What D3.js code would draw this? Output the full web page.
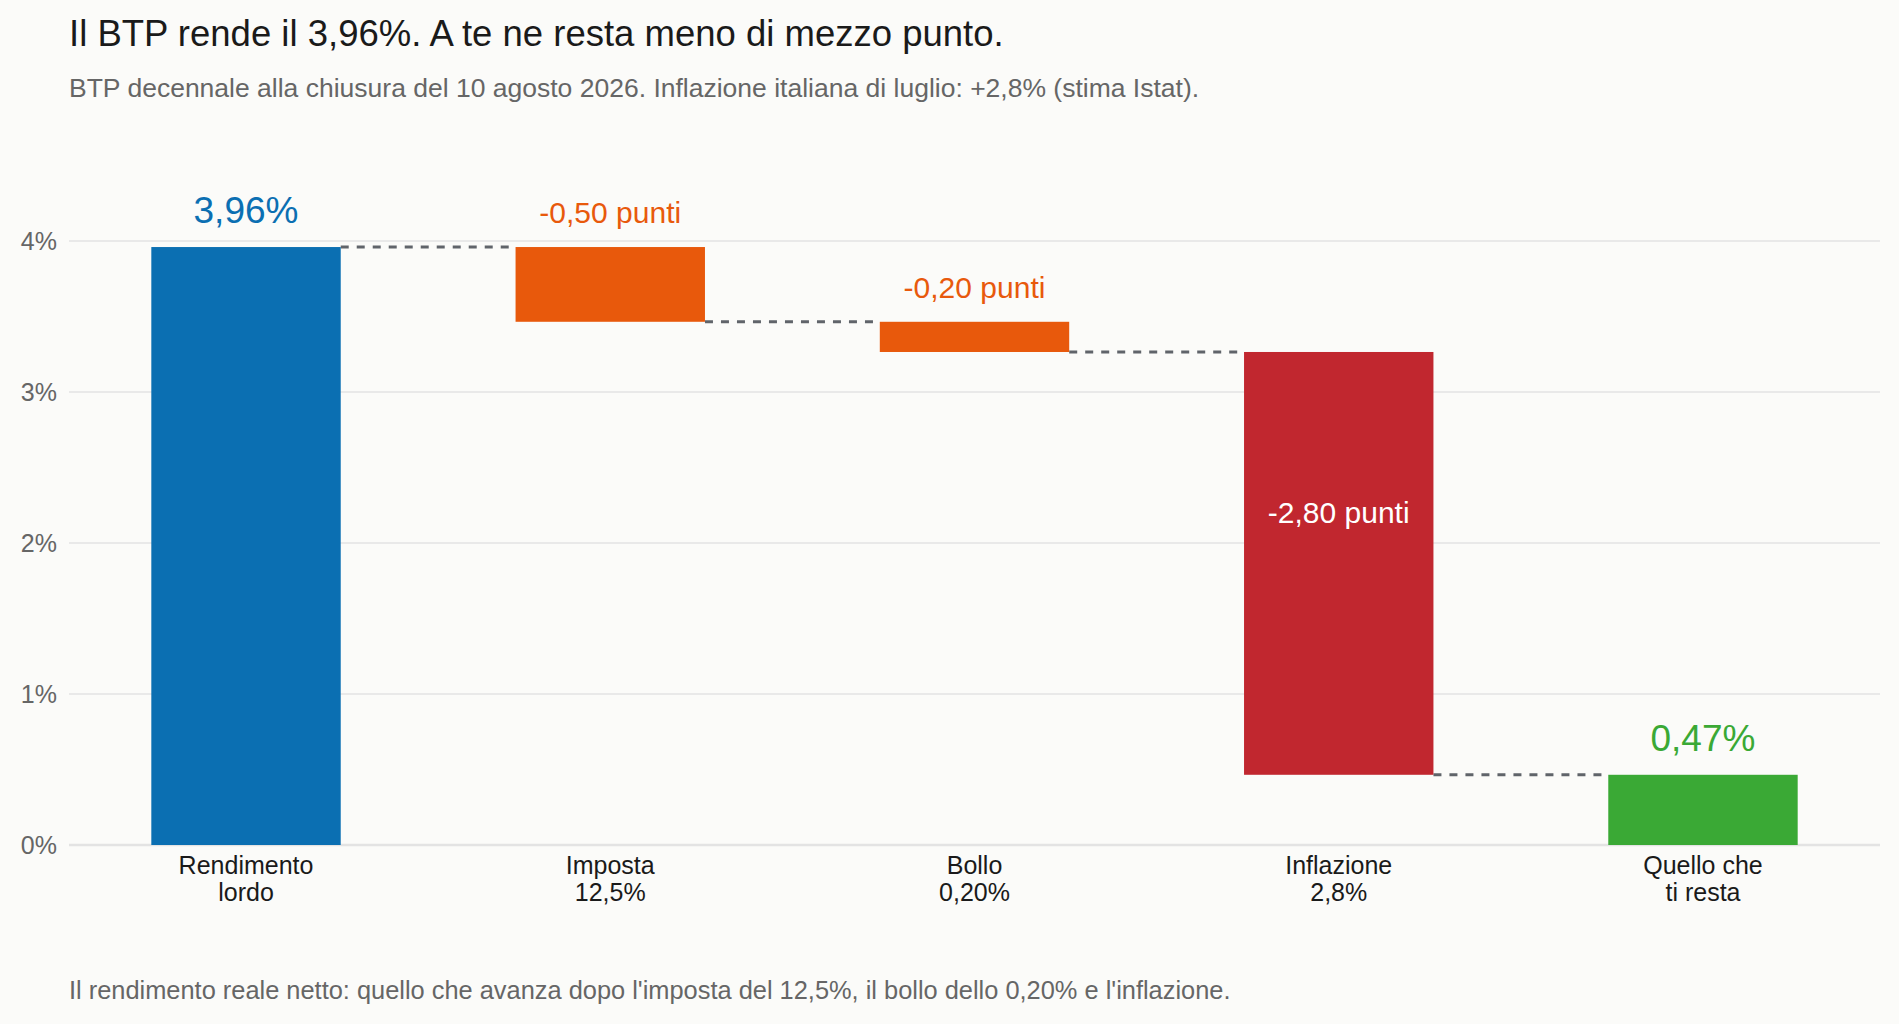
<html>
<head>
<meta charset="utf-8">
<script src="https://d3js.org/d3.v7.min.js"></script>
<style>
  body { margin: 0; background: #fbfbf9; }
  svg { display: block; font-family: "Liberation Sans", Arial, sans-serif; }
</style>
</head>
<body>
<svg width="1899" height="1024"></svg>
<script>
// waterfall steps: gross yield, deductions, net result
const categories = [["Rendimento", "lordo"], ["Imposta", "12,5%"], ["Bollo", "0,20%"], ["Inflazione", "2,8%"], ["Quello che", "ti resta"]];
const deltas = [3.96, -0.495, -0.20, -2.80];
const valueLabels = ["3,96%", "-0,50 punti", "-0,20 punti", "-2,80 punti", "0,47%"];
const yTicks = [0, 1, 2, 3, 4];
const colors = ["#0b6fb2", "#e8590c", "#e8590c", "#c1272f", "#3aa935"];

const svg = d3.select('svg')
const mLeft = 69, mRight = 1880, mTop = 241, mBottom = 845

// running totals -> bar start/end
let run = 0
const steps = deltas.map((d, i) => {
  let s = i == 0 ? 0 : run
  run += d
  return { i, y0: s, y1: run }
})
steps.push({ i: steps.length, y0: 0, y1: run })

let x = d3.scaleBand().domain(d3.range(categories.length)).range([mLeft, mRight])
    .paddingInner(0.48).paddingOuter(0.226)
let y = d3.scaleLinear().domain([0, 4]).range([mBottom, mTop])

// titles
svg.append('text').attr('x', 69).attr('y', 46)
  .text('Il BTP rende il 3,96%. A te ne resta meno di mezzo punto.')
  .style('font-size', '36.5px').style('fill', '#1a1a1a')
svg.append('text').attr('x', 69).attr('y', 97)
  .text('BTP decennale alla chiusura del 10 agosto 2026. Inflazione italiana di luglio: +2,8% (stima Istat).')
  .style('font-size', '26.5px').style('fill', '#666')

// grid + y labels
let g = svg.append('g')
g.selectAll('line').data(yTicks).join('line')
  .attr('x1', mLeft).attr('x2', mRight)
  .attr('y1', d => y(d)).attr('y2', d => y(d))
  .style('stroke', '#e3e3e3').style('stroke-width', d => d == 0 ? 2.5 : 1.5)
g.selectAll('text').data(yTicks).join('text')
  .attr('x', 57).attr('y', d => y(d)).attr('dy', '0.35em')
  .attr('text-anchor', 'end')
  .text(d => d + '%')
  .style('font-size', '25px').style('fill', '#666')

// connectors
svg.append('g').selectAll('line').data(steps.slice(0, -1)).join('line')
  .attr('x1', d => x(d.i) + x.bandwidth())
  .attr('x2', d => x(d.i + 1))
  .attr('y1', d => y(d.y1)).attr('y2', d => y(d.y1))
  .style('stroke', '#60646a').style('stroke-width', 3)
  .style('stroke-dasharray', '8,8')

// bars
svg.append('g').selectAll('rect').data(steps).join('rect')
  .attr('x', d => x(d.i))
  .attr('width', x.bandwidth())
  .attr('y', d => y(Math.max(d.y0, d.y1)))
  .attr('height', d => Math.abs(y(d.y0) - y(d.y1)))
  .style('fill', d => colors[d.i])

// value labels, inflation one goes inside the bar
svg.append('g').selectAll('text').data(steps).join('text')
  .attr('x', d => x(d.i) + x.bandwidth() / 2)
  .attr('y', d => d.i == 3
      ? y(d.y0) + 0.38 * (y(d.y1) - y(d.y0)) + 10
      : y(Math.max(d.y0, d.y1)) - 24)
  .attr('text-anchor', 'middle')
  .text(d => valueLabels[d.i])
  .style('font-size', d => d.i == 0 || d.i == 4 ? '37px' : '30px')
  .style('fill', d => d.i == 3 ? '#fff' : colors[d.i])

// category labels
let cat = svg.append('g').selectAll('text').data(categories).join('text')
  .attr('x', (d, i) => x(i) + x.bandwidth() / 2)
  .attr('y', 874)
  .attr('text-anchor', 'middle')
  .style('font-size', '25px').style('fill', '#1a1a1a')
cat.selectAll('tspan').data(d => d).join('tspan')
  .attr('x', function() { return d3.select(this.parentNode).attr('x') })
  .attr('dy', (d, j) => j == 0 ? 0 : 27)
  .text(d => d)

svg.append('text').attr('x', 69).attr('y', 999)
  .text("Il rendimento reale netto: quello che avanza dopo l'imposta del 12,5%, il bollo dello 0,20% e l'inflazione.")
  .style('font-size', '25.4px').style('fill', '#666')
</script>
</body>
</html>
